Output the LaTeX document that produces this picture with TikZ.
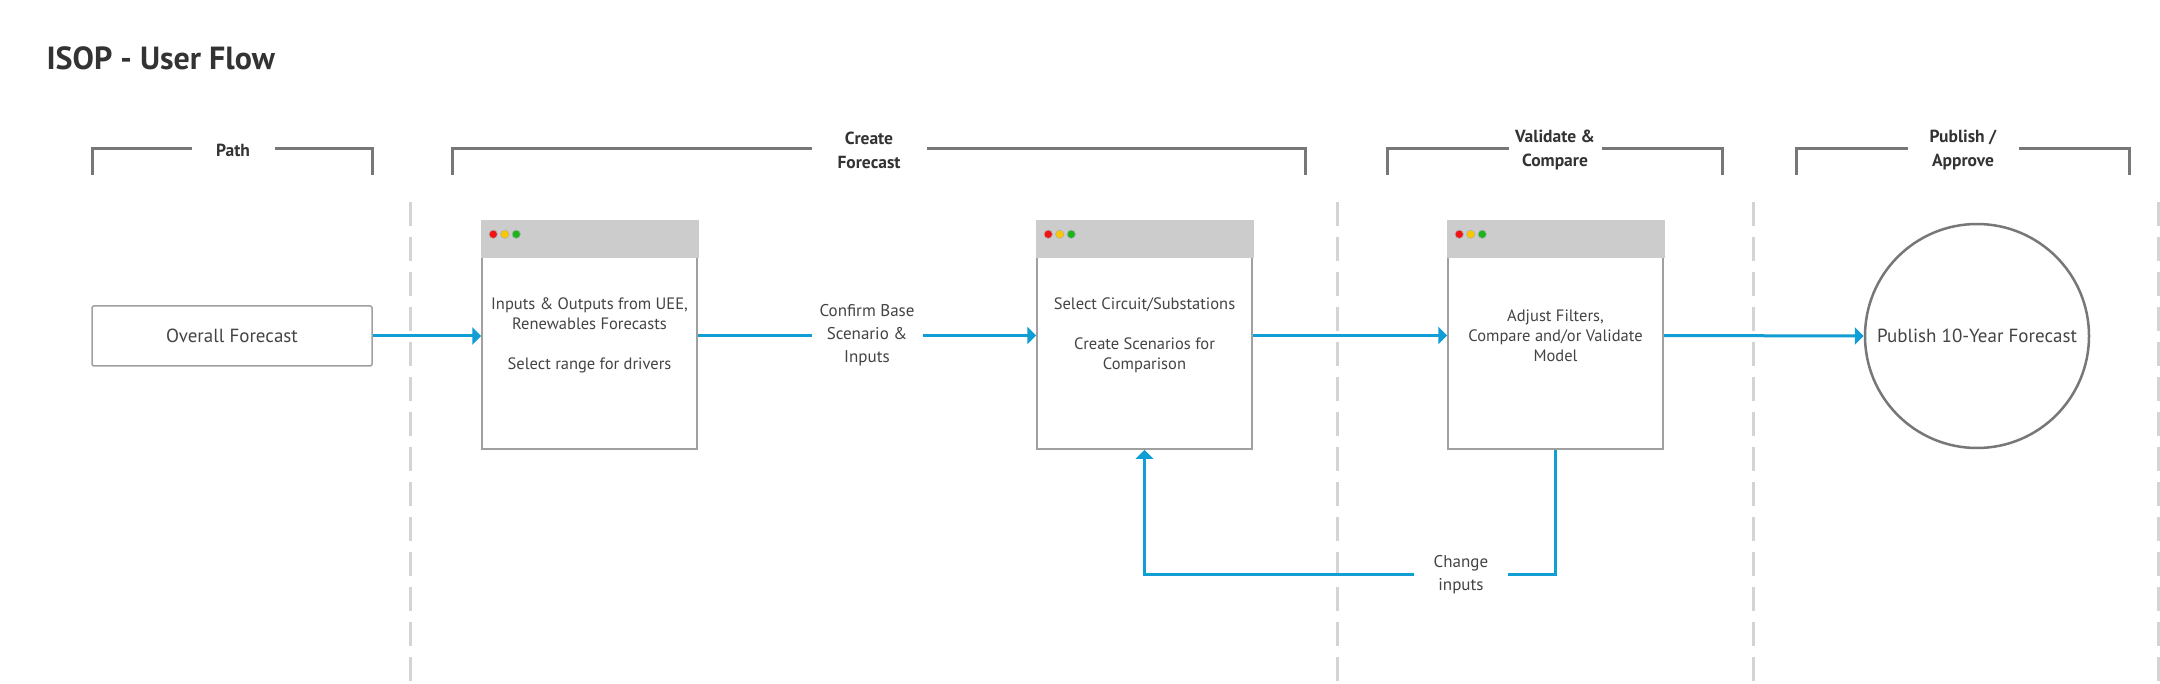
\documentclass[tikz,border=0pt]{standalone}
\usepackage{fontspec}
\setmainfont{PT Sans}
\usetikzlibrary{arrows.meta,positioning}

\definecolor{flowblue}{RGB}{17,158,212}
\definecolor{brkgray}{RGB}{119,119,119}
\definecolor{sepgray}{RGB}{212,212,212}
\definecolor{wingray}{RGB}{160,160,160}
\definecolor{barfill}{RGB}{204,204,204}
\definecolor{txtgray}{RGB}{68,68,68}
\definecolor{titlegray}{RGB}{51,51,51}
\definecolor{dotred}{RGB}{240,20,20}
\definecolor{dotyellow}{RGB}{250,200,0}
\definecolor{dotgreen}{RGB}{30,180,30}

\tikzset{
  win/.style={draw=wingray,line width=1.5pt,fill=white,minimum width=215pt,minimum height=227pt,
    align=center,text=txtgray,font=\fontsize{16.5}{20}\selectfont},
  flow/.style={-{Triangle[length=9pt,width=17pt]},draw=flowblue,line width=3pt},
  brk/.style={draw=brkgray,line width=3pt},
  brklabel/.style={fill=white,inner xsep=0pt,inner ysep=2pt,align=center,text=titlegray,
    font=\fontsize{17.5}{24}\selectfont\bfseries},
  flowlabel/.style={fill=white,align=center,text=txtgray,font=\fontsize{17}{23}\selectfont},
  sep/.style={draw=sepgray,line width=3pt,dash pattern=on 24pt off 11pt}
}

\begin{document}
\begin{tikzpicture}[x=1pt,y=-1pt]

\fill[white] (0,0) rectangle (2160,684);
\useasboundingbox (0,0) rectangle (2160,684);

\node[anchor=base west,text=titlegray,font=\fontsize{32}{36}\selectfont\bfseries] (title) at (43,70) {ISOP - User Flow};

% phase brackets
\draw[brk] (92,175) |- (372,149) -- (372,175);
\node[brklabel,minimum width=83pt] (path) at (233,150) {Path};
\draw[brk] (452,175) |- (1305,149) -- (1305,175);
\node[brklabel,minimum width=115pt] (create) at (869,150) {Create\\Forecast};
\draw[brk] (1387,175) |- (1722,149) -- (1722,175);
\node[brklabel,minimum width=93pt] (validate) at (1555,150) {Validate \&\\Compare};
\draw[brk] (1796,175) |- (2129,149) -- (2129,175);
\node[brklabel,minimum width=111pt] (publish) at (1963,150) {Publish /\\Approve};

\foreach \x in {410,1337,1753,2158}{
	\draw[sep] (\x,202)--(\x,684);
}

\node[draw=wingray,line width=1.5pt,rounded corners=2pt,minimum width=280pt,minimum height=60pt,
  text=txtgray,font=\fontsize{19}{22}\selectfont] (of) at (232,336) {Overall Forecast};

\node[win] (w1) at (589.5,335.5) {Inputs \& Outputs from UEE,\\Renewables Forecasts\\[20pt]Select range for drivers};
\node[win] (w2) at (1144.5,335.5) {Select Circuit/Substations\\[20pt]Create Scenarios for\\Comparison};
\node[win] (w3) at (1555.5,335.5) {Adjust Filters,\\Compare and/or Validate\\Model};

\foreach \w in {w1,w2,w3}{
	\fill[barfill] ([xshift=-0.75pt,yshift=0.75pt]\w.north west) rectangle ([xshift=0.75pt,yshift=-37pt]\w.north east);
	\foreach \c [count=\i] in {dotred,dotyellow,dotgreen}
		\filldraw[fill=\c,draw=black!30,line width=0.6pt] ([xshift={(12+11.5*(\i-1))*1pt},yshift=-13pt]\w.north west) circle (4.2);
}

\node[circle,draw=brkgray,line width=2.5pt,minimum size=224pt,inner sep=0pt,text=txtgray,
  font=\fontsize{19}{22}\selectfont] (pub) at (1977,336) {Publish 10-Year Forecast};

\draw[flow] (of.east)--(of.east -| w1.west);
\draw[flow] (w1.east)--node[flowlabel,inner xsep=8pt] (confirm) {Confirm Base\\Scenario \&\\Inputs} (w2.west);
\draw[flow] (w2.east)--(w3.west);
\draw[flow] (w3.east)--(pub.west);

\coordinate (loop) at ([yshift=-125pt]w3.south);
\draw[flow] (w3.south)--(loop) -| node[flowlabel,pos=0.115,inner xsep=20pt] (change) {Change\\inputs} (w2.south);

\end{tikzpicture}
\end{document}
